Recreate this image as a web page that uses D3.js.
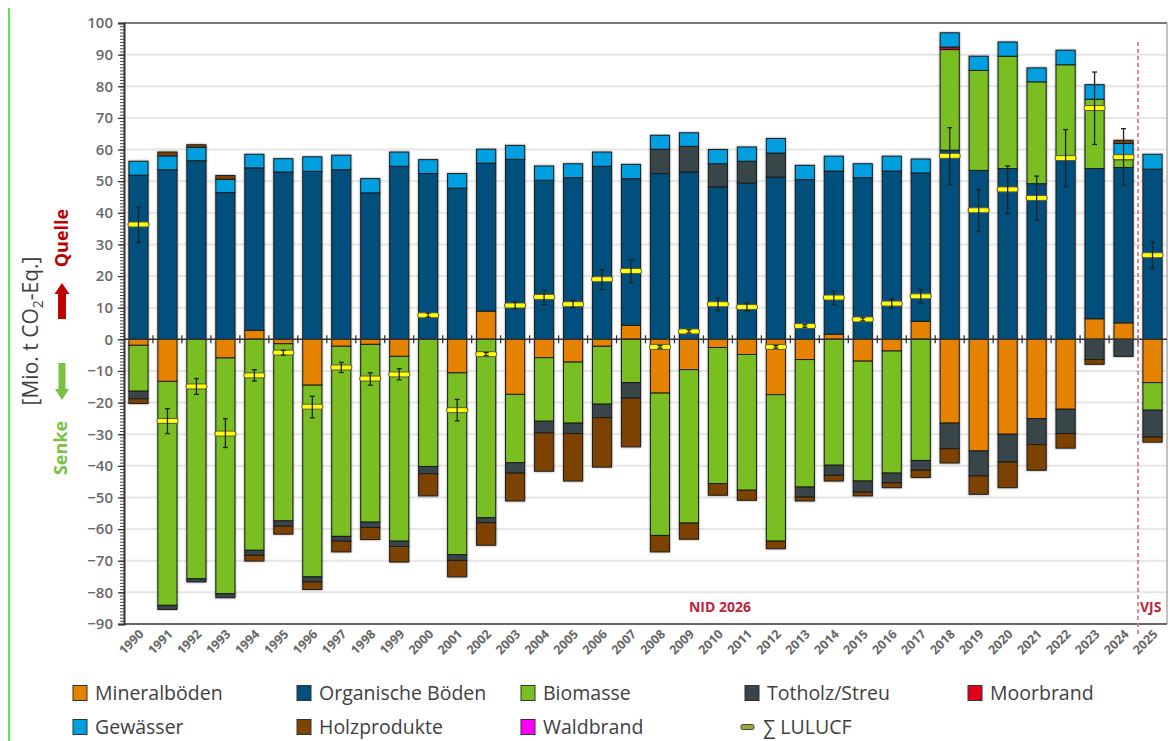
<!DOCTYPE html>
<html>
<head>
<meta charset="utf-8">
<script src="https://cdn.jsdelivr.net/npm/d3@7"></script>
<style>
  html, body { margin: 0; padding: 0; background: #fff; }
  svg { display: block; }
  text { font-family: "Open Sans", "DejaVu Sans", sans-serif; }
</style>
</head>
<body>
<svg id="chart" width="1175" height="741"></svg>
<script>
// ---------- DATA (Mio. t CO2-Eq.) ----------
const years = ["1990","1991","1992","1993","1994","1995","1996","1997","1998","1999",
  "2000","2001","2002","2003","2004","2005","2006","2007","2008","2009",
  "2010","2011","2012","2013","2014","2015","2016","2017","2018","2019",
  "2020","2021","2022","2023","2024","2025"];

const mineralboeden = [-1.9,-13.3,0,-5.9,2.8,-1.4,-14.5,-2.2,-1.6,-5.4,
  0,-10.6,8.9,-17.4,-5.8,-7.2,-2.2,4.4,-17.0,-9.6,
  -2.6,-4.8,-17.5,-6.4,1.6,-6.9,-3.7,5.7,-26.5,-35.3,
  -30.0,-25.1,-22.1,6.5,5.2,-13.7];

const organischeBoeden = [51.9,53.6,56.5,46.4,51.4,52.9,53.1,53.6,46.3,54.7,
  52.4,47.8,46.8,56.9,50.3,51.1,54.7,46.4,52.4,52.9,
  48.2,49.4,51.3,50.5,51.6,51.1,53.2,46.9,59.8,53.4,
  54.0,49.2,57.1,47.5,49.1,53.8];

const biomasse = [-14.5,-70.8,-75.7,-74.5,-66.7,-56.0,-60.6,-60.1,-56.2,-58.4,
  -40.2,-57.5,-56.4,-21.6,-20.1,-19.3,-18.3,-13.7,-45.0,-48.5,
  -43.0,-42.9,-46.3,-40.3,-39.8,-37.9,-38.6,-38.3,31.8,31.6,
  35.5,32.2,29.7,21.9,2.5,-8.7];

const totholzStreu = [-2.4,-1.3,-1.0,-1.3,-1.6,-1.7,-1.6,-1.5,-1.7,-1.7,
  -2.3,-1.8,-1.6,-3.3,-3.7,-3.3,-4.3,-4.9,7.7,8.1,
  7.3,6.9,7.6,-3.2,-3.2,-3.5,-3.1,-3.1,-8.1,-7.9,
  -8.8,-8.2,-7.7,-6.4,-5.4,-8.5];

const moorbrand = [0,0,0,0,0,0,0,0,0,0,
  0,0,0,0,0,0,0,0,0,0,
  0,0,0,0,0,0,0,0,0.8,0,
  0,0,0,0,0,0];

const gewaesser = [4.4,4.4,4.2,4.2,4.3,4.2,4.6,4.6,4.5,4.5,
  4.4,4.6,4.4,4.4,4.5,4.4,4.5,4.5,4.4,4.3,
  4.5,4.5,4.6,4.5,4.7,4.4,4.7,4.4,4.5,4.5,
  4.5,4.4,4.6,4.6,5.1,4.7];

const holzprodukte = [-1.5,1.2,0.8,1.2,-1.8,-2.5,-2.4,-3.4,-3.8,-4.9,
  -7.0,-5.2,-7.1,-8.8,-12.1,-15.0,-15.6,-15.4,-5.2,-5.1,
  -3.7,-3.2,-2.4,-1.2,-1.8,-1.2,-1.5,-2.3,-4.5,-5.8,
  -8.1,-8.1,-4.6,-1.5,1.0,-1.6];

const waldbrand = [0,0,0,0,0,0,0,0,0,0,
  0,0,0,0,0,0,0,0,0,0,
  0,0,0,0,0,0,0,0,0,0,
  0,0,0,0,0,0];

const lulucf = [36.3,-25.8,-14.9,-29.8,-11.4,-4.2,-21.3,-8.9,-12.4,-11.1,
  7.6,-22.4,-4.7,10.7,13.4,11.1,19.0,21.6,-2.4,2.5,
  11.1,10.2,-2.4,4.2,13.2,6.3,11.3,13.6,58.0,40.8,
  47.4,44.7,57.3,73.1,57.6,26.6];

const errLow = [30.6,-29.8,-17.4,-34.2,-13.2,-5.0,-24.8,-10.5,-14.5,-12.8,
  7.0,-25.8,-5.2,9.7,11.0,10.0,15.7,17.9,-2.8,2.0,
  9.0,9.0,-2.8,3.8,11.0,5.8,9.8,11.5,48.9,34.2,
  39.7,37.6,48.2,61.6,48.7,22.4];

const errHigh = [41.8,-21.9,-12.4,-25.1,-9.6,-3.5,-18.0,-7.3,-10.6,-9.3,
  8.3,-19.0,-4.2,11.8,15.5,12.3,22.0,25.2,-2.0,3.0,
  13.1,11.5,-2.0,4.6,15.3,6.8,12.8,15.7,66.9,47.3,
  54.8,51.6,66.3,84.5,66.6,30.8];

const yTicks = [-90,-80,-70,-60,-50,-40,-30,-20,-10,0,10,20,30,40,50,60,70,80,90,100];

const seriesNames = ["Mineralböden","Organische Böden","Biomasse","Totholz/Streu",
  "Moorbrand","Gewässer","Holzprodukte","Waldbrand"];
const seriesValues = [mineralboeden, organischeBoeden, biomasse, totholzStreu,
  moorbrand, gewaesser, holzprodukte, waldbrand];
const seriesColors = ["#e58200","#02507b","#79bf22","#374449",
  "#e0001b","#00a0e0","#7e4300","#ff00ff"];

// ---------- LAYOUT ----------
const svg = d3.select("#chart");
const L = 124, R = 1167, T = 23, B = 624;

const x = d3.scaleBand().domain(years).range([L, R]).paddingInner(0.34).paddingOuter(0.17);
const y = d3.scaleLinear().domain([-90, 100]).range([B, T]);

// left-edge green line (artifact of the reference)
svg.append("line").attr("x1", 9).attr("x2", 9).attr("y1", 8).attr("y2", 741)
  .attr("stroke", "#22dd22").attr("stroke-width", 1.5);

// gridlines
svg.append("g").selectAll("line").data(yTicks.filter(v => v !== 0 && v !== -90 && v !== 100))
  .join("line")
  .attr("x1", L).attr("x2", R)
  .attr("y1", d => y(d)).attr("y2", d => y(d))
  .attr("stroke", "#e6e6e6").attr("stroke-width", 2);

// frame
svg.append("line").attr("x1", L).attr("x2", R).attr("y1", T).attr("y2", T)
  .attr("stroke", "#7a7a7a").attr("stroke-width", 2);
svg.append("line").attr("x1", R).attr("x2", R).attr("y1", T).attr("y2", B)
  .attr("stroke", "#9a9a9a").attr("stroke-width", 1.2);
svg.append("line").attr("x1", L).attr("x2", R).attr("y1", B).attr("y2", B)
  .attr("stroke", "#666").attr("stroke-width", 2);

// stacked data
const rows = years.map((yr, i) => {
  const o = { year: yr };
  seriesNames.forEach((n, k) => o[n] = seriesValues[k][i]);
  return o;
});
const stack = d3.stack().keys(seriesNames).offset(d3.stackOffsetDiverging);
const stacked = stack(rows);

const shadow = svg.append("defs").append("filter").attr("id", "sh")
  .attr("x", "-20%").attr("y", "-5%").attr("width", "140%").attr("height", "110%");
shadow.append("feDropShadow").attr("dx", 0).attr("dy", 0).attr("stdDeviation", 1.2)
  .attr("flood-color", "#000").attr("flood-opacity", 0.45);

const barsG = svg.append("g").attr("filter", "url(#sh)");
stacked.forEach((s, k) => {
  barsG.append("g").selectAll("rect")
    .data(s.filter(d => Math.abs(d[1] - d[0]) > 1e-9))
    .join("rect")
    .attr("x", d => x(d.data.year))
    .attr("width", x.bandwidth())
    .attr("y", d => y(Math.max(d[0], d[1])))
    .attr("height", d => Math.abs(y(d[0]) - y(d[1])))
    .attr("fill", seriesColors[k])
    .attr("stroke", "#1b1b1b").attr("stroke-width", 1);
});

// zero line with category ticks
svg.append("line").attr("x1", L).attr("x2", R).attr("y1", y(0)).attr("y2", y(0))
  .attr("stroke", "#333").attr("stroke-width", 1.6);
const step = x.step();
svg.append("g").selectAll("line").data(years.slice(1))
  .join("line")
  .attr("x1", d => x(d) - step * x.paddingInner() / 2)
  .attr("x2", d => x(d) - step * x.paddingInner() / 2)
  .attr("y1", y(0) - 4).attr("y2", y(0) + 4)
  .attr("stroke", "#333").attr("stroke-width", 1.3);

// y axis
const yMinor = d3.axisLeft(y).tickValues(d3.range(-90, 101, 1)).tickSize(4).tickFormat("");
svg.append("g").attr("transform", `translate(${L},0)`).call(yMinor)
  .call(g => g.select(".domain").remove())
  .call(g => g.selectAll("line").attr("stroke", "#444").attr("stroke-width", 1));
const yAxis = d3.axisLeft(y).tickValues(yTicks).tickSize(6).tickPadding(5).tickFormat(d3.format("d"));
svg.append("g").attr("transform", `translate(${L},0)`).call(yAxis)
  .call(g => g.select(".domain").attr("stroke", "#333").attr("stroke-width", 2))
  .call(g => g.selectAll(".tick line").attr("stroke", "#333").attr("stroke-width", 1.3))
  .call(g => g.selectAll(".tick text")
    .attr("fill", "#6a6a6a").attr("font-size", 15).attr("font-weight", 600)
    .style("font-family", "'Open Sans', sans-serif"));

// x axis labels
const xAxis = d3.axisBottom(x).tickSize(0).tickPadding(0);
svg.append("g").attr("transform", `translate(0,${B})`).call(xAxis)
  .call(g => g.select(".domain").remove())
  .call(g => g.selectAll(".tick text")
    .attr("text-anchor", "end")
    .attr("dy", 0)
    .attr("transform", "translate(6,11) rotate(-45)")
    .attr("fill", "#666").attr("font-size", 12.5).attr("font-weight", 700)
    .style("font-family", "'Open Sans', sans-serif"));

// LULUCF sum markers & error bars
const cx = d => x(d) + x.bandwidth() / 2;
const mk = svg.append("g");
mk.selectAll("rect").data(years).join("rect")
  .attr("x", d => cx(d) - 10.5).attr("width", 21)
  .attr("y", (d, i) => y(lulucf[i]) - 2.5).attr("height", 5)
  .attr("rx", 2)
  .attr("fill", "#ffff00").attr("stroke", "#555").attr("stroke-width", 1);
const eb = svg.append("g").attr("stroke", "#222").attr("stroke-width", 1.3);
eb.selectAll("line.v").data(years).join("line").attr("class", "v")
  .attr("x1", d => cx(d)).attr("x2", d => cx(d))
  .attr("y1", (d, i) => y(errLow[i])).attr("y2", (d, i) => y(errHigh[i]));
eb.selectAll("line.lo").data(years).join("line").attr("class", "lo")
  .attr("x1", d => cx(d) - 2.5).attr("x2", d => cx(d) + 2.5)
  .attr("y1", (d, i) => y(errLow[i])).attr("y2", (d, i) => y(errLow[i]));
eb.selectAll("line.hi").data(years).join("line").attr("class", "hi")
  .attr("x1", d => cx(d) - 2.5).attr("x2", d => cx(d) + 2.5)
  .attr("y1", (d, i) => y(errHigh[i])).attr("y2", (d, i) => y(errHigh[i]));

// VJS separator
const sepX = x("2025") - step * x.paddingInner() / 2;
svg.append("line").attr("x1", sepX).attr("x2", sepX).attr("y1", y(94)).attr("y2", 636)
  .attr("stroke", "#e06a7c").attr("stroke-width", 1.6).attr("stroke-dasharray", "4,3");

svg.append("text").attr("x", 720).attr("y", 612).attr("text-anchor", "middle")
  .attr("fill", "#c0243c").attr("font-size", 14).attr("font-weight", 700).text("NID 2026");
svg.append("text").attr("x", sepX + 2).attr("y", 612)
  .attr("fill", "#c0243c").attr("font-size", 14).attr("font-weight", 700).text("VJS");

// y axis title
const yt = svg.append("text").attr("transform", "translate(38,331) rotate(-90)")
  .attr("text-anchor", "middle").attr("fill", "#404040").attr("font-size", 21);
yt.append("tspan").text("[Mio. t  CO");
yt.append("tspan").attr("font-size", 14).attr("dy", 5).text("2");
yt.append("tspan").attr("dy", -5).text("-Eq.]");

svg.append("text").attr("transform", "translate(68,238) rotate(-90)")
  .attr("text-anchor", "middle").attr("fill", "#c00000").attr("font-size", 18)
  .attr("font-weight", 700).text("Quelle");
svg.append("text").attr("transform", "translate(67,448) rotate(-90)")
  .attr("text-anchor", "middle").attr("fill", "#7ac143").attr("font-size", 18)
  .attr("font-weight", 700).text("Senke");

// arrows
const ax = 62;
svg.append("path").attr("fill", "#c00000")
  .attr("d", `M${ax-4},319 L${ax-4},294 L${ax-7.5},294 L${ax},283 L${ax+7.5},294 L${ax+4},294 L${ax+4},319 Z`);
svg.append("path").attr("fill", "#7ac143")
  .attr("d", `M${ax-3.5},363 L${ax-3.5},389 L${ax-7},389 L${ax},400 L${ax+7},389 L${ax+3.5},389 L${ax+3.5},363 Z`);

// legend
const legendItems = [
  { name: "Mineralböden", color: seriesColors[0], x: 73, y: 693 },
  { name: "Organische Böden", color: seriesColors[1], x: 297, y: 693 },
  { name: "Biomasse", color: seriesColors[2], x: 521, y: 693 },
  { name: "Totholz/Streu", color: seriesColors[3], x: 745, y: 693 },
  { name: "Moorbrand", color: seriesColors[4], x: 968, y: 693 },
  { name: "Gewässer", color: seriesColors[5], x: 73, y: 727 },
  { name: "Holzprodukte", color: seriesColors[6], x: 297, y: 727 },
  { name: "Waldbrand", color: seriesColors[7], x: 521, y: 727 }
];
const lg = svg.append("g");
legendItems.forEach(it => {
  lg.append("rect").attr("x", it.x).attr("y", it.y - 7.5).attr("width", 14).attr("height", 15)
    .attr("fill", it.color).attr("stroke", "#333").attr("stroke-width", 1);
  lg.append("text").attr("x", it.x + 22).attr("y", it.y).attr("dy", "0.35em")
    .attr("fill", "#404040").attr("font-size", 19.5).text(it.name);
});
lg.append("rect").attr("x", 741).attr("y", 724.5).attr("width", 13).attr("height", 5).attr("rx", 1.5)
  .attr("fill", "#a6a23a").attr("stroke", "#444").attr("stroke-width", 1);
lg.append("text").attr("x", 763).attr("y", 727).attr("dy", "0.35em")
  .attr("fill", "#404040").attr("font-size", 19.5).text("∑ LULUCF");
</script>
</body>
</html>
